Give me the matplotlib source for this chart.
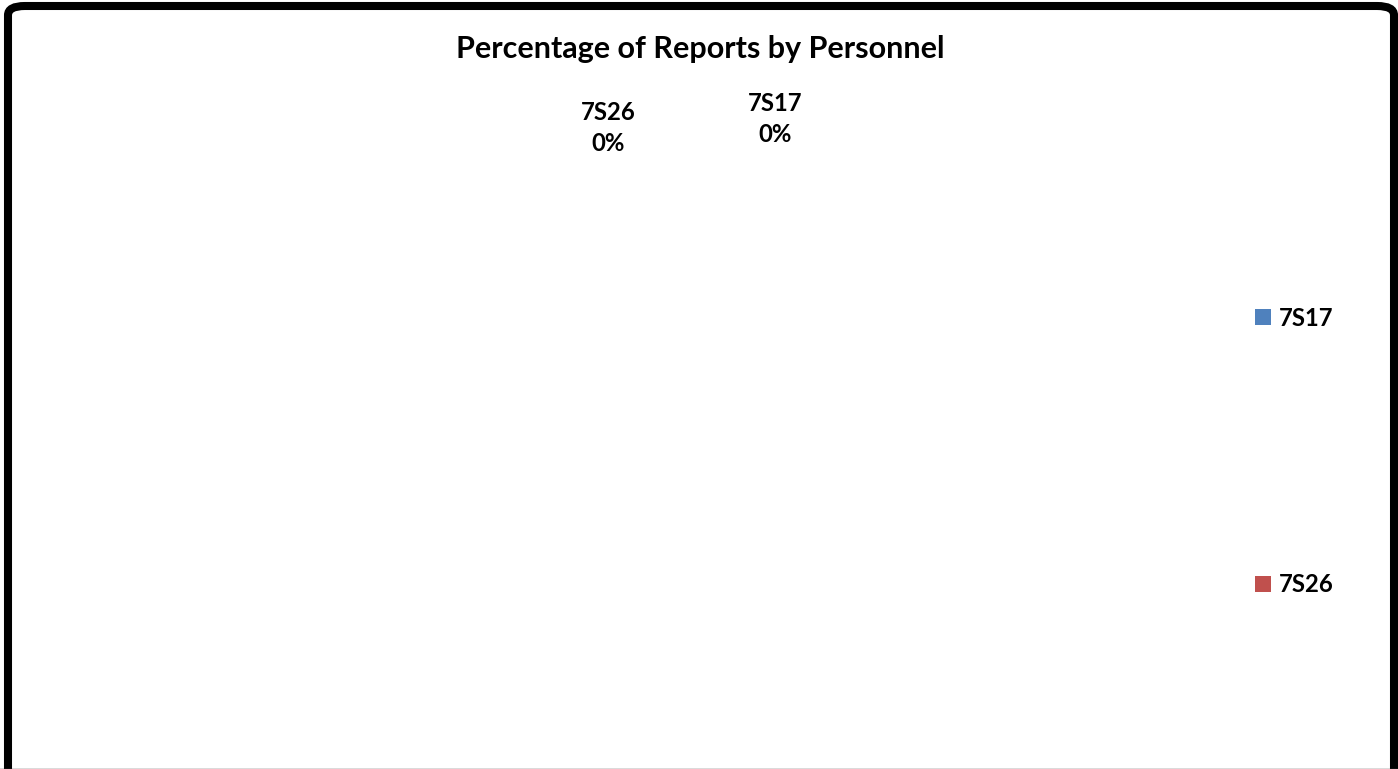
import matplotlib
matplotlib.use("Agg")
import matplotlib.pyplot as plt
from matplotlib.patches import FancyBboxPatch, Patch
from matplotlib.lines import Line2D

plt.rcParams['font.family'] = ['Lato', 'DejaVu Sans']

title = "Percentage of Reports by Personnel"
categories = ["7S17", "7S26"]
values = [0, 0]
colors = ["#4F81BD", "#C0504D"]

W, H = 1398, 769
fig = plt.figure(figsize=(W / 100, H / 100), dpi=100)
fig.patch.set_facecolor("white")

# chart border (rounded, thick black)
border = FancyBboxPatch((8 / W, -20 / H), (1394 - 8) / W, (H - 6 + 20) / H,
                        boxstyle="round,pad=0,rounding_size=0.012",
                        transform=fig.transFigure, facecolor="none",
                        edgecolor="black", linewidth=5.8, zorder=10)
fig.add_artist(border)
fig.add_artist(Line2D([0, 1], [0.5 / H, 0.5 / H], transform=fig.transFigure,
                      color="#444444", linewidth=1.0, zorder=11))

fig.text(700 / W, 1 - 49 / H, title, ha="center", va="center",
         fontsize=22, fontweight="bold", color="black")

ax = fig.add_axes([0, 0, 1, 1])
ax.set_xlim(0, W)
ax.set_ylim(H, 0)
ax.axis("off")

total = sum(values)
label_pos = {"7S17": (775, 119), "7S26": (608, 128)}
for cat, v in zip(categories, values):
    pct = 0 if total == 0 else v / total * 100
    x, y = label_pos[cat]
    ax.text(x, y, f"{cat}\n{pct:.0f}%", ha="center", va="center",
            fontsize=17.2, fontweight="bold", linespacing=1.45)

handles = [Patch(facecolor=c, edgecolor="none") for c in colors]
leg = fig.legend(handles, categories, loc="center left",
                 bbox_to_anchor=(1243 / W, 1 - 451.5 / H), frameon=False,
                 prop={"weight": "bold", "size": 17.2}, borderpad=0,
                 handlelength=0.67, handleheight=0.67, handletextpad=0.33,
                 labelspacing=10.2)

fig.savefig("out.png", dpi=100)
